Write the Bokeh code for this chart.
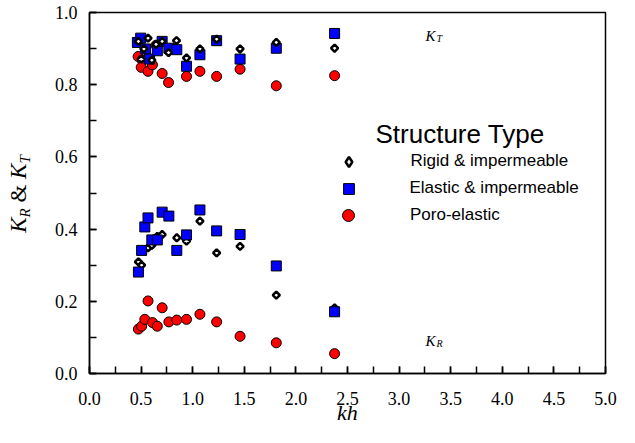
import math
from bokeh.plotting import figure
from bokeh.models import (Range1d, SingleIntervalTicker, PrintfTickFormatter,
                          Legend, LegendItem, Label, Div)
from bokeh.layouts import row
from bokeh.embed import file_html
from bokeh.resources import INLINE

# ---------------- data ----------------
# Transmission coefficient K_T
rigid_kt_x = [0.474, 0.501, 0.527, 0.567, 0.604, 0.645, 0.704, 0.766, 0.843, 0.940, 1.070, 1.232, 1.459, 1.810, 2.375]
rigid_kt_y = [0.920, 0.871, 0.899, 0.929, 0.868, 0.912, 0.920, 0.889, 0.922, 0.874, 0.899, 0.926, 0.899, 0.917, 0.901]

elastic_kt_x = [0.464, 0.496, 0.542, 0.582, 0.657, 0.704, 0.769, 0.846, 0.940, 1.070, 1.232, 1.459, 1.810, 2.375]
elastic_kt_y = [0.917, 0.929, 0.899, 0.871, 0.894, 0.920, 0.901, 0.897, 0.851, 0.883, 0.922, 0.871, 0.901, 0.942]

poro_kt_x = [0.471, 0.511, 0.501, 0.567, 0.610, 0.645, 0.704, 0.766, 0.940, 1.070, 1.232, 1.459, 1.810, 2.375]
poro_kt_y = [0.878, 0.868, 0.848, 0.837, 0.855, 0.909, 0.831, 0.806, 0.823, 0.837, 0.823, 0.843, 0.797, 0.825]

# Reflection coefficient K_R
rigid_kr_x = [0.474, 0.505, 0.567, 0.604, 0.657, 0.704, 0.846, 0.940, 1.070, 1.232, 1.459, 1.810, 2.375]
rigid_kr_y = [0.309, 0.300, 0.348, 0.355, 0.380, 0.385, 0.376, 0.367, 0.422, 0.334, 0.352, 0.217, 0.182]

elastic_kr_x = [0.474, 0.505, 0.536, 0.567, 0.604, 0.657, 0.704, 0.769, 0.846, 0.940, 1.070, 1.232, 1.459, 1.810, 2.375]
elastic_kr_y = [0.281, 0.341, 0.406, 0.431, 0.370, 0.370, 0.447, 0.436, 0.341, 0.384, 0.453, 0.395, 0.385, 0.298, 0.171]

poro_kr_x = [0.474, 0.505, 0.536, 0.567, 0.610, 0.657, 0.704, 0.769, 0.846, 0.940, 1.070, 1.232, 1.459, 1.810, 2.375]
poro_kr_y = [0.123, 0.131, 0.150, 0.201, 0.141, 0.131, 0.182, 0.143, 0.148, 0.150, 0.164, 0.143, 0.103, 0.085, 0.055]

series_names = ["Rigid & impermeable", "Elastic & impermeable", "Poro-elastic"]
legend_title = "Structure Type"
x_title = "kh"

SERIF = "Liberation Serif"
SANS = "Liberation Sans"

# ---------------- figure ----------------
p = figure(width=571, height=427, output_backend="svg", toolbar_location=None,
           x_range=Range1d(0, 5), y_range=Range1d(0, 1),
           min_border_left=41, min_border_right=14, min_border_top=12, min_border_bottom=54)
p.grid.visible = False
p.outline_line_color = "black"
p.outline_line_width = 1.5
p.background_fill_color = "white"
p.border_fill_color = "white"

p.xaxis.ticker = SingleIntervalTicker(interval=0.5, num_minor_ticks=2)
p.yaxis.ticker = SingleIntervalTicker(interval=0.2, num_minor_ticks=2)
for ax in (p.xaxis, p.yaxis):
    ax.formatter = PrintfTickFormatter(format="%.1f")
    ax.axis_line_color = "black"
    ax.axis_line_width = 1.5
    ax.major_tick_line_color = "black"
    ax.minor_tick_line_color = "black"
    ax.major_tick_line_width = 1.5
    ax.minor_tick_line_width = 1.5
    ax.major_tick_in = 7
    ax.major_tick_out = 0
    ax.minor_tick_in = 7
    ax.minor_tick_out = 0
    ax.major_label_text_font = SERIF
    ax.major_label_text_font_size = "18px"
    ax.major_label_text_color = "black"
p.xaxis.major_label_standoff = 18
p.yaxis.major_label_standoff = 12

p.xaxis.axis_label = x_title
p.xaxis.axis_label_text_font = SERIF
p.xaxis.axis_label_text_font_style = "italic"
p.xaxis.axis_label_text_font_size = "22px"
p.xaxis.axis_label_text_color = "black"
p.xaxis.axis_label_standoff = -8

# ---------------- markers ----------------
circ = dict(marker="circle", size=10, fill_color="#FF0000", line_color="black", line_width=1)
sq = dict(marker="square", size=10, fill_color="#0000FF", line_color="black", line_width=1)
dia = dict(marker="square", angle=math.pi / 4, size=5, fill_color="white",
           line_color="black", line_width=2.5)

# upper (K_T) cluster: circles, squares, diamonds on top
r_poro = p.scatter(poro_kt_x, poro_kt_y, **circ)
r_el = p.scatter(elastic_kt_x, elastic_kt_y, **sq)
p.scatter(rigid_kt_x, rigid_kt_y, **dia)
# lower (K_R) cluster: diamonds, then squares on top
p.scatter(poro_kr_x, poro_kr_y, **circ)
p.scatter(rigid_kr_x, rigid_kr_y, **dia)
p.scatter(elastic_kr_x, elastic_kr_y, **sq)
# legend-only (hidden) renderer for the diamond symbol, since legends do not rotate markers
r_rig_leg = p.scatter(rigid_kt_x, rigid_kt_y, marker="diamond", fill_color="white",
                      line_color="black", line_width=2.5, visible=False)

# ---------------- legends ----------------
def make_legend(label, renderer, gw, gh, cy):
    cx, text_x = 259, 321
    left = cx - gw / 2
    lg = Legend(items=[LegendItem(label=label, renderers=[renderer])],
                location=(left, cy - gh / 2), glyph_width=gw, glyph_height=gh,
                label_standoff=int(round(text_x - left - gw)), padding=0, margin=0, spacing=0,
                border_line_color=None, background_fill_alpha=0,
                inactive_fill_alpha=0, click_policy="none",
                label_text_font=SANS, label_text_font_size="17px",
                label_text_color="black")
    p.add_layout(lg, "center")

make_legend(series_names[0], r_rig_leg, 25, 27, 211.7)
make_legend(series_names[1], r_el, 27, 27, 184.7)
make_legend(series_names[2], r_poro, 30, 30, 157.7)

p.add_layout(Label(x=286, y=240, x_units="screen", y_units="screen", text=legend_title,
                   text_font=SANS, text_font_size="26px", text_color="black",
                   text_baseline="alphabetic", text_align="left"))

# ---------------- K_T / K_R annotations ----------------
def k_label(x, y, sub):
    p.add_layout(Label(x=x, y=y, text="K", text_font=SERIF, text_font_style="italic",
                       text_font_size="15px", text_color="black", text_baseline="alphabetic"))
    p.add_layout(Label(x=x, y=y, x_offset=11, y_offset=-3, text=sub, text_font=SERIF,
                       text_font_style="italic", text_font_size="10px", text_color="black",
                       text_baseline="alphabetic"))

k_label(3.256, 0.935, "T")
k_label(3.256, 0.091, "R")

# ---------------- y axis title (rotated HTML text with subscripts) ----------------
ylab = Div(width=48, height=427, margin=0, text=(
    '<div style="position:relative;width:48px;height:427px;">'
    '<span style="position:absolute;left:22px;top:194px;'
    'transform:translate(-50%,-50%) rotate(-90deg);white-space:nowrap;'
    "font-family:'Liberation Serif';font-size:23px;line-height:23px;color:black;\">"
    '<i>K</i><sub style="font-size:15px;vertical-align:-4px;"><i>R</i></sub> &amp; '
    '<i>K</i><sub style="font-size:15px;vertical-align:-4px;"><i>T</i></sub>'
    '</span></div>'))

layout = row(ylab, p, spacing=0)
open("out.html", "w").write(file_html(layout, INLINE))
